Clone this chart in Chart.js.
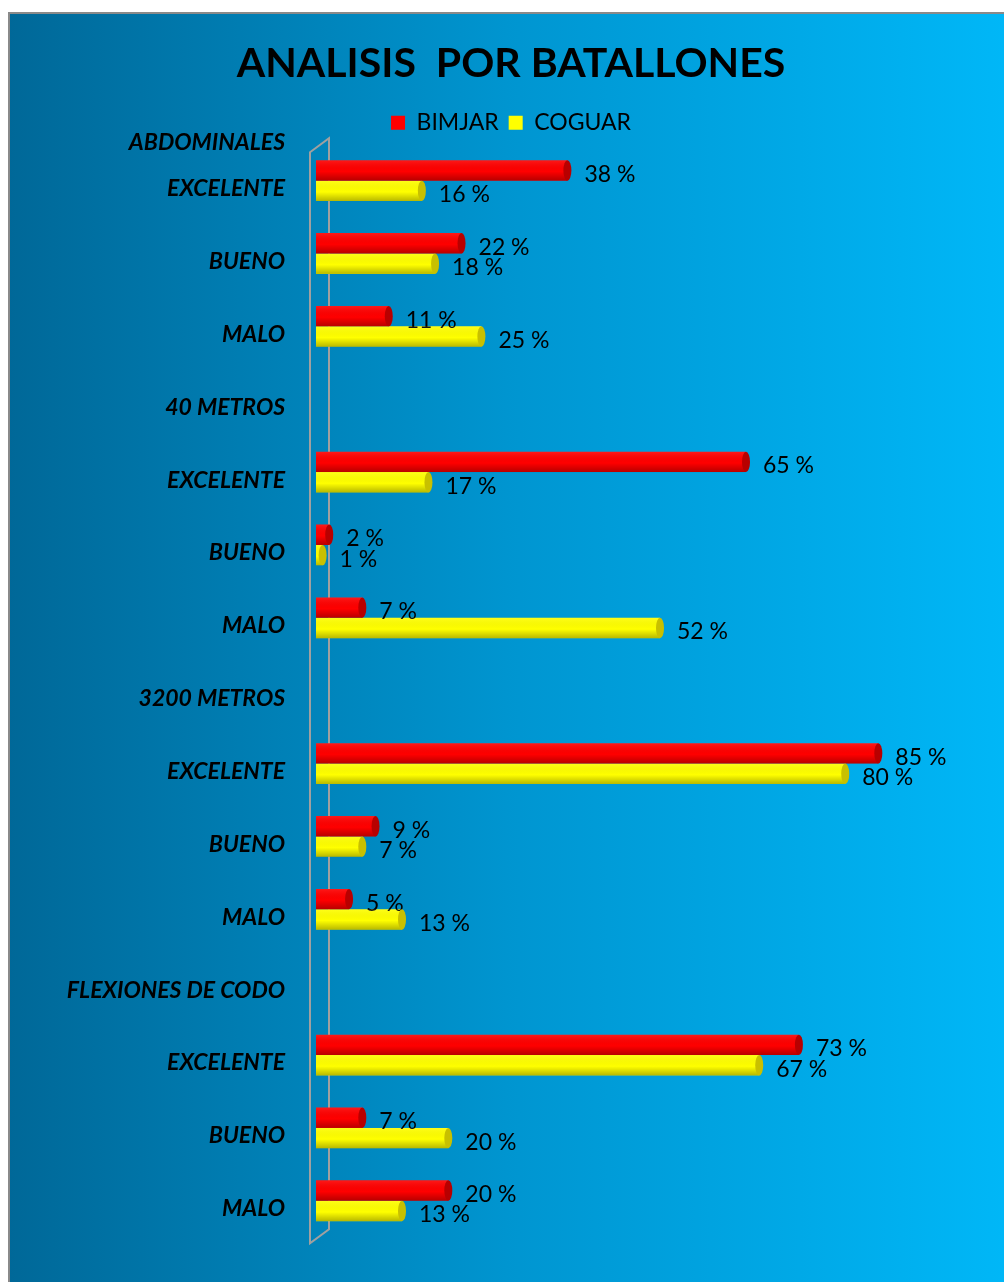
<!DOCTYPE html>
<html>
<head>
<meta charset="utf-8">
<script src="https://cdn.jsdelivr.net/npm/chart.js@4.4.0/dist/chart.umd.min.js"></script>
<style>
  html, body { margin: 0; padding: 0; background: #ffffff; }
  #wrap { position: relative; width: 1004px; height: 1282px; }
</style>
</head>
<body>
<div id="wrap"><canvas id="batallones-bar"></canvas></div>
<script>
//
// Data
//

var groupHeader = 'ABDOMINALES';
var categories = ['EXCELENTE', 'BUENO', 'MALO', '40 METROS', 'EXCELENTE', 'BUENO', 'MALO',
	'3200 METROS', 'EXCELENTE', 'BUENO', 'MALO', 'FLEXIONES DE CODO', 'EXCELENTE', 'BUENO', 'MALO'];
var bimjar = [38, 22, 11, null, 65, 2, 7, null, 85, 9, 5, null, 73, 7, 20];
var coguar = [16, 18, 25, null, 17, 1, 52, null, 80, 7, 13, null, 67, 20, 13];
var seriesNames = ['BIMJAR', 'COGUAR'];


//
// Plugins
//

// Background panel with gray frame on top and left
var panelBg = {
	id: 'panelBg',
	beforeDraw: function(chart) {
		var ctx = chart.ctx;
		var w = chart.width, h = chart.height;
		ctx.save();
		var g = ctx.createLinearGradient(8, 0, w, 0);
		g.addColorStop(0, '#006898');
		g.addColorStop(0.5, '#0095d0');
		g.addColorStop(1, '#00b7f7');
		ctx.fillStyle = g;
		ctx.fillRect(8, 12, w - 8, h - 12);
		ctx.strokeStyle = '#8a8a8a';
		ctx.lineWidth = 2;
		ctx.beginPath();
		ctx.moveTo(9, h);
		ctx.lineTo(9, 13);
		ctx.lineTo(w, 13);
		ctx.stroke();
		ctx.restore();
	}
};

// Thin 3D wall behind the bars + the first group header
var wall3d = {
	id: 'wall3d',
	beforeDatasetsDraw: function(chart) {
		var ctx = chart.ctx;
		var a = chart.chartArea;
		var x0 = chart.scales.x.getPixelForValue(0);
		ctx.save();
		ctx.strokeStyle = '#a0a0a0';
		ctx.lineWidth = 2;
		ctx.beginPath();
		ctx.moveTo(x0 - 6, a.top + 8);
		ctx.lineTo(x0 + 13, a.top - 6);
		ctx.lineTo(x0 + 13, a.bottom - 8);
		ctx.lineTo(x0 - 6, a.bottom + 6);
		ctx.closePath();
		ctx.stroke();

		// group header above the first row
		var yScale = chart.scales.y;
		ctx.fillStyle = '#000000';
		ctx.font = 'italic bold 23px Lato';
		ctx.textAlign = 'right';
		ctx.textBaseline = 'middle';
		ctx.fillText(groupHeader, yScale.right - 31, yScale.getPixelForValue(0) - 38);
		ctx.restore();
	}
};

// Cylinder shading + value labels
var cylinderLabels = {
	id: 'cylinderLabels',
	afterDatasetsDraw: function(chart) {
		var ctx = chart.ctx;
		var caps = ['#b80000', '#c8c000'];
		ctx.save();
		chart.data.datasets.forEach(function(ds, di) {
			var meta = chart.getDatasetMeta(di);
			meta.data.forEach(function(bar, i) {
				var v = ds.data[i];
				if (v === null) return;
				var top = bar.y - bar.height / 2;
				var bot = bar.y + bar.height / 2;
				var left = bar.base;
				var g = ctx.createLinearGradient(0, top, 0, bot);
				g.addColorStop(0, 'rgba(255,255,255,0.10)');
				g.addColorStop(0.55, 'rgba(0,0,0,0)');
				g.addColorStop(1, 'rgba(0,0,0,0.28)');
				ctx.fillStyle = g;
				ctx.fillRect(left, top, bar.x - left, bot - top);
				ctx.fillStyle = caps[di];
				ctx.beginPath();
				ctx.ellipse(bar.x, bar.y, 4, bar.height / 2, 0, 0, Math.PI * 2);
				ctx.fill();

				ctx.fillStyle = '#000000';
				ctx.font = '23px Lato';
				ctx.textAlign = 'left';
				ctx.textBaseline = 'middle';
				ctx.fillText(v + ' %', bar.x + 17, bar.y + 4);
			});
		});
		ctx.restore();
	}
};


//
// Chart
//

var $canvas = document.getElementById('batallones-bar');

var batallonesBar = new Chart($canvas, {
	type: 'bar',
	data: {
		labels: categories,
		datasets: [{
			label: seriesNames[0],
			data: bimjar,
			backgroundColor: '#ff0000',
			borderWidth: 0
		}, {
			label: seriesNames[1],
			data: coguar,
			backgroundColor: '#ffff00',
			borderWidth: 0
		}]
	},
	options: {
		indexAxis: 'y',
		responsive: true,
		maintainAspectRatio: false,
		animation: false,
		categoryPercentage: 0.56,
		barPercentage: 1.0,
		layout: {
			padding: { top: 12, left: 18, right: 0, bottom: 34 }
		},
		plugins: {
			title: {
				display: true,
				text: 'ANALISIS  POR BATALLONES',
				color: '#000000',
				font: { family: 'Lato', size: 41, weight: 'bold' },
				padding: { top: 27, bottom: 13 }
			},
			legend: {
				display: true,
				labels: {
					color: '#000000',
					font: { family: 'Lato', size: 23 },
					boxWidth: 14,
					boxHeight: 14,
					padding: 10
				}
			},
			tooltip: { enabled: false }
		},
		scales: {
			x: {
				display: false,
				min: 0,
				max: 104
			},
			y: {
				grid: { display: false, drawTicks: false },
				border: { display: false },
				ticks: {
					color: '#000000',
					font: { family: 'Lato', size: 23, style: 'italic', weight: 'bold' },
					padding: 31,
					labelOffset: 8,
					autoSkip: false
				},
				afterFit: function(scale) {
					scale.width = 298;
				}
			}
		}
	},
	plugins: [panelBg, wall3d, cylinderLabels]
});
</script>
</body>
</html>
